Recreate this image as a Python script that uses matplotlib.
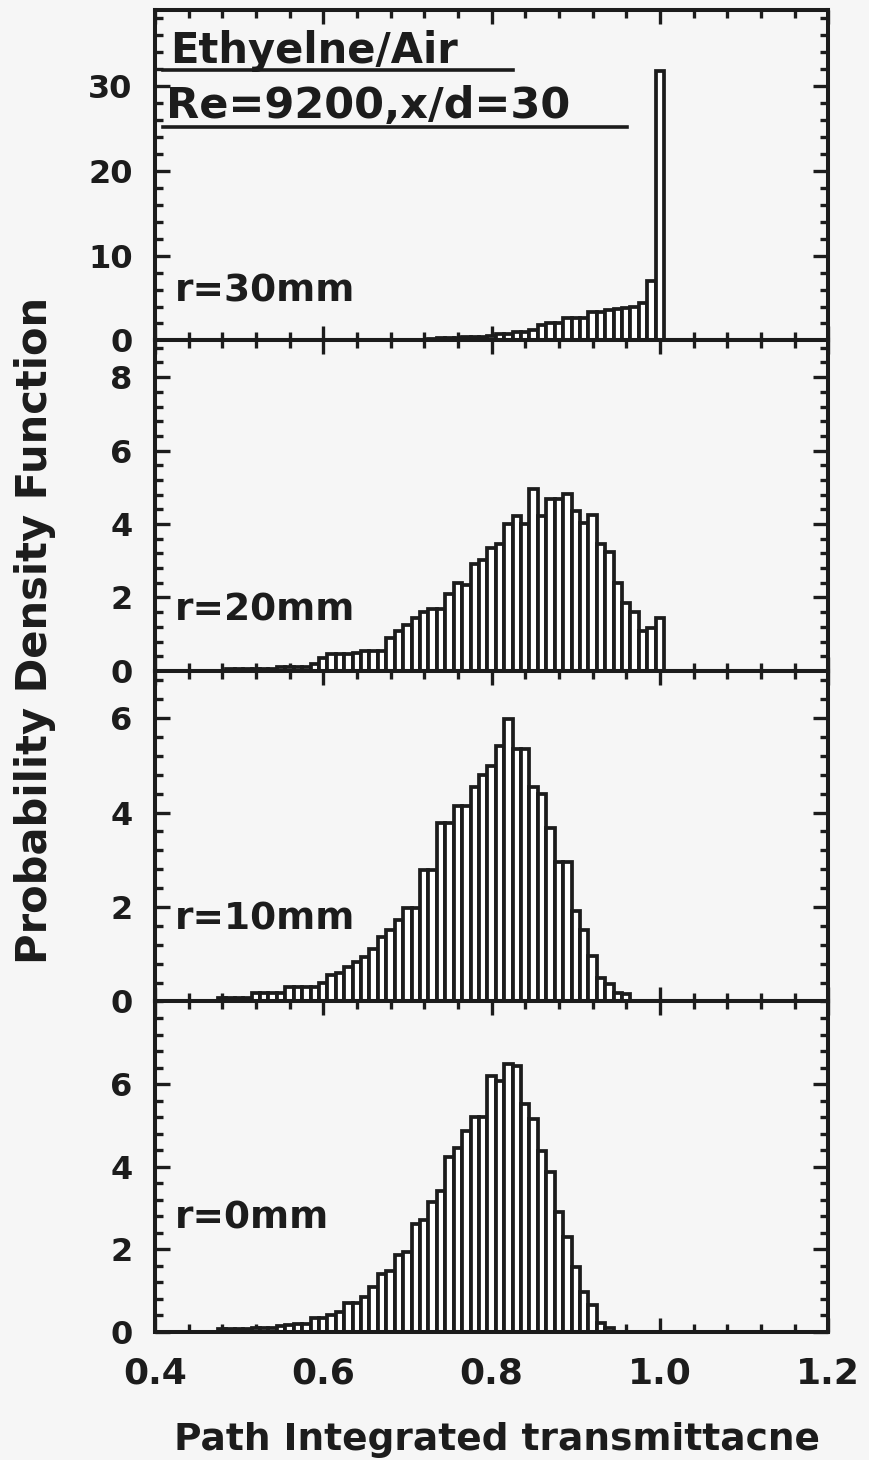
import matplotlib
matplotlib.use('Agg')
import matplotlib.pyplot as plt
from matplotlib.ticker import MultipleLocator, FormatStrFormatter
import numpy as np

# bin centres of the transmittance histogram (0.40 ... 1.00, step 0.01)
centers = np.round(0.40 + 0.01 * np.arange(61), 2)

pdf_r30 = [0, 0, 0, 0, 0, 0, 0, 0, 0, 0,
           0, 0, 0, 0, 0, 0, 0, 0, 0, 0,
           0, 0, 0, 0, 0, 0.05, 0.05, 0.05, 0.05, 0.05,
           0.1, 0.1, 0.1, 0.15, 0.25, 0.25, 0.3, 0.35, 0.35, 0.35,
           0.5, 0.8, 0.8, 1.0, 1.0, 1.2, 1.8, 2.1, 2.1, 2.6,
           2.6, 2.6, 3.4, 3.4, 3.6, 3.7, 3.8, 3.95, 4.4, 7.0,
           31.8]

pdf_r20 = [0, 0, 0, 0, 0, 0, 0, 0, 0, 0.05,
           0.05, 0.05, 0.05, 0.05, 0.05, 0.12, 0.12, 0.12, 0.12, 0.2,
           0.35, 0.45, 0.45, 0.45, 0.5, 0.55, 0.55, 0.55, 0.9, 1.1,
           1.25, 1.45, 1.6, 1.7, 1.7, 2.1, 2.4, 2.35, 2.92, 3.01,
           3.34, 3.47, 3.99, 4.22, 4.0, 4.95, 4.22, 4.67, 4.67, 4.81,
           4.35, 4.04, 4.25, 3.46, 3.25, 2.4, 1.86, 1.61, 1.09, 1.18,
           1.43]

pdf_r10 = [0, 0, 0, 0, 0, 0, 0, 0, 0.08, 0.08,
           0.08, 0.08, 0.18, 0.18, 0.18, 0.18, 0.3, 0.3, 0.3, 0.3,
           0.4, 0.55, 0.6, 0.72, 0.83, 0.94, 1.12, 1.37, 1.52, 1.73,
           1.98, 1.98, 2.78, 2.78, 3.77, 3.77, 4.15, 4.15, 4.55, 4.8,
           4.98, 5.41, 5.98, 5.34, 5.34, 4.55, 4.4, 3.68, 2.96, 2.96,
           1.91, 1.52, 0.97, 0.5, 0.36, 0.18, 0.15, 0, 0, 0,
           0]

pdf_r0 = [0, 0, 0, 0, 0, 0, 0, 0, 0.06, 0.06,
          0.06, 0.06, 0.1, 0.1, 0.1, 0.14, 0.16, 0.2, 0.2, 0.33,
          0.33, 0.41, 0.49, 0.69, 0.69, 0.85, 1.09, 1.41, 1.48, 1.86,
          1.94, 2.62, 2.71, 3.14, 3.41, 4.24, 4.45, 4.87, 5.2, 5.2,
          6.19, 6.07, 6.49, 6.43, 5.51, 5.15, 4.37, 3.86, 2.9, 2.3,
          1.57, 0.97, 0.65, 0.22, 0.09, 0, 0, 0, 0, 0,
          0]

radius_labels = ['r=30mm', 'r=20mm', 'r=10mm', 'r=0mm']
series = [pdf_r30, pdf_r20, pdf_r10, pdf_r0]
ytick_sets = [[0, 10, 20, 30], [0, 2, 4, 6, 8], [0, 2, 4, 6], [0, 2, 4, 6]]

ink = '#1c1c1c'
paper = '#f6f6f6'
plt.rcParams['font.family'] = ['DejaVu Sans']
plt.rcParams['font.weight'] = 'bold'

fig = plt.figure(figsize=(8.7, 14.6), dpi=100, facecolor=paper)
gs = fig.add_gridspec(4, 1, left=0.178, right=0.952, top=0.9932, bottom=0.0877, hspace=0)

ylims = [39, 9, 7, 8]
yminor = [2, 0.4, 0.4, 0.4]
label_y = [0.148, 0.183, 0.248, 0.343]

axes = []
for i in range(4):
    ax = fig.add_subplot(gs[i])
    axes.append(ax)
    ax.set_facecolor(paper)
    ax.bar(centers, series[i], width=0.01, color='white', edgecolor=ink,
           linewidth=2.7, align='center', zorder=2)
    ax.set_xlim(0.4, 1.2)
    ax.set_ylim(0, ylims[i])
    ax.set_yticks(ytick_sets[i])
    ax.yaxis.set_minor_locator(MultipleLocator(yminor[i]))
    ax.xaxis.set_major_locator(MultipleLocator(0.2))
    ax.xaxis.set_minor_locator(MultipleLocator(0.04))
    ax.xaxis.set_major_formatter(FormatStrFormatter('%.1f'))
    ax.tick_params(which='both', direction='in', top=True, right=True,
                   color=ink, width=2.4)
    ax.tick_params(axis='x', which='major', length=10)
    ax.tick_params(axis='x', which='minor', length=6)
    ax.tick_params(axis='y', which='major', length=11)
    ax.tick_params(axis='y', which='minor', length=6)
    ax.tick_params(axis='y', labelsize=23, pad=16, labelcolor=ink)
    ax.tick_params(axis='x', labelsize=26, pad=18, labelcolor=ink)
    for s in ax.spines.values():
        s.set_linewidth(2.9)
        s.set_color(ink)
        s.set_zorder(5)
    if i < 3:
        ax.tick_params(axis='x', labelbottom=False)
    ax.text(0.030, label_y[i], radius_labels[i], transform=ax.transAxes,
            fontsize=27, fontweight='bold', color=ink, va='center', ha='left')

# header block in the top panel
top = axes[0]
top.text(0.022, 0.840, 'Ethyelne/Air', transform=top.transAxes, fontsize=30,
         fontweight='bold', color=ink, va='baseline', ha='left')
top.plot([0.012, 0.532], [0.819, 0.819], transform=top.transAxes, color=ink,
         lw=2.6, clip_on=False)
top.text(0.016, 0.672, 'Re=9200,x/d=30', transform=top.transAxes, fontsize=31,
         fontweight='bold', color=ink, va='baseline', ha='left')
top.plot([0.012, 0.701], [0.645, 0.645], transform=top.transAxes, color=ink,
         lw=2.6, clip_on=False)

fig.text(0.040, 0.568, 'Probability Density Function', rotation=90,
         fontsize=30, fontweight='bold', color=ink, ha='center', va='center')
fig.text(0.571, 0.0137, 'Path Integrated transmittacne', fontsize=27,
         fontweight='bold', color=ink, ha='center', va='center')

fig.savefig('out.png', dpi=100, facecolor=paper)
